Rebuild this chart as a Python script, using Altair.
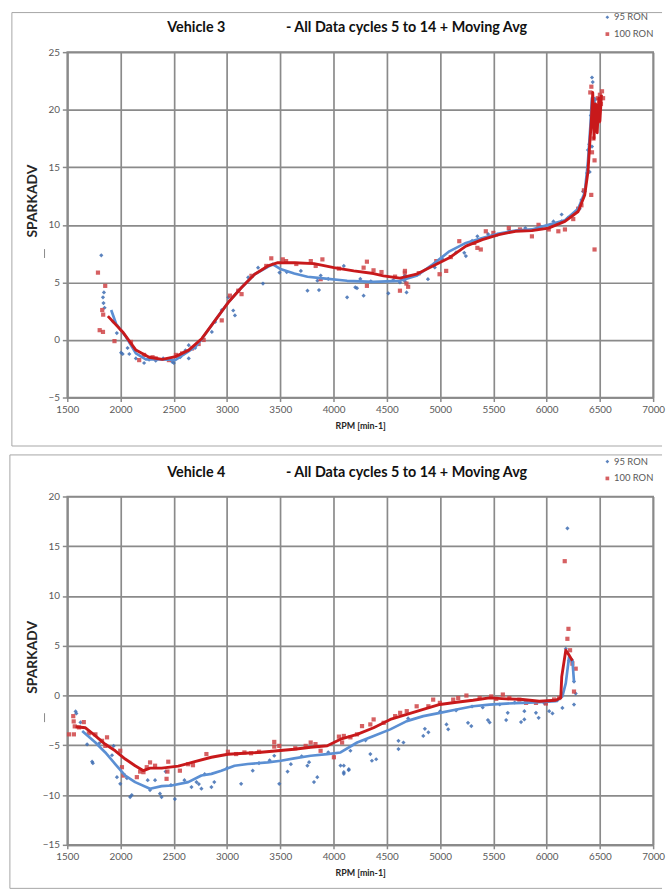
import altair as alt
import pandas as pd

# ---------------- Vehicle 3 ----------------
v3_b_rpm = [1819, 1835, 1840, 1844, 1850, 1930, 1965, 2005, 2020, 2066, 2082, 2144, 2221, 2268, 2330, 2400,
            2485, 2500, 2560, 2609, 2640, 2640, 2700, 2857, 2888, 2950, 3012, 3058, 3074, 3105, 3198, 3291,
            3337, 3430, 3492, 3560, 3693, 3755, 3848, 3863, 3879, 3950, 4096, 4127, 4204, 4220, 4251, 4282,
            4350, 4514, 4560, 4623, 4669, 4670, 4685, 4886, 4950, 5025, 5150, 5227, 5242, 5300, 5350, 5450,
            5536, 5650, 5800, 5940, 6050, 6064, 6141, 6141, 6200, 6250, 6296, 6311, 6327, 6342, 6358, 6380,
            6388, 6400, 6404, 6415, 6426, 6426, 6433, 6440, 6460]
v3_b_val = [7.35, 3.7, 3.2, 4.13, 2.8, 1.6, 0.6, -1.1, -1.22, -0.7, -1.22, -1.6, -2.0, -1.7, -1.8, -1.6,
            -1.9, -2.0, -1.5, -0.9, -1.6, -0.45, -0.7, 0.7, 1.56, 2.6, 3.7, 2.56, 2.13, 4.28, 5.43, 6.28,
            4.9, 6.57, 5.85, 5.9, 6.0, 4.28, 5.15, 4.33, 5.6, 5.3, 6.43, 3.7, 4.57, 4.5, 5.3, 3.85,
            5.1, 4.05, 5.2, 5.0, 5.6, 5.1, 4.13, 5.28, 6.3, 7.0, 7.6, 7.57, 7.29, 8.6, 9.0, 9.2,
            9.15, 9.5, 9.72, 9.87, 9.9, 10.3, 10.3, 10.9, 10.6, 10.9, 11.4, 11.4, 12.16, 12.9, 12.9, 14.5,
            16.5, 17.0, 14.6, 19.5, 22.8, 16.8, 22.4, 20.5, 20.9]

v3_r_rpm = [1788, 1804, 1828, 1835, 1837, 1856, 1943, 2098, 2175, 2221, 2300, 2330, 2454, 2520, 2578, 2671,
            2733, 2780, 2950, 3027, 3105, 3136, 3229, 3368, 3415, 3523, 3554, 3650, 3786, 3832, 3879, 3895,
            4050, 4282, 4313, 4313, 4375, 4450, 4577, 4623, 4669, 4670, 4684, 4700, 4800, 4964, 4995, 5057,
            5100, 5180, 5320, 5350, 5382, 5429, 5500, 5645, 5750, 5862, 5924, 6020, 6110, 6172, 6250, 6296,
            6327, 6350, 6410, 6419, 6420, 6426, 6440, 6450, 6450, 6460, 6470, 6480, 6490, 6500, 6510, 6520, 6530]
v3_r_val = [5.85, 0.85, 2.6, 0.7, 2.2, 4.7, -0.1, -0.17, -1.75, -1.3, -1.5, -1.6, -1.75, -1.3, -1.17, -0.74,
            -0.35, 0.0, 1.7, 3.85, 4.28, 3.98, 5.57, 6.43, 7.09, 7.0, 6.85, 6.6, 6.85, 6.43, 5.28, 7.0,
            6.2, 6.28, 6.8, 4.7, 6.05, 5.9, 5.5, 4.28, 5.85, 6.0, 4.9, 4.62, 5.8, 6.85, 5.71, 6.0,
            7.2, 8.58, 8.43, 8.0, 7.86, 9.44, 9.3, 9.72, 9.6, 9.0, 10.0, 9.6, 9.44, 9.6, 10.5, 11.4,
            11.7, 13.0, 21.5, 12.6, 22.0, 16.3, 17.5, 15.6, 7.86, 18.5, 20.0, 21.0, 19.0, 21.3, 20.5, 21.6, 21.0]

v3_bl_rpm = [1912, 1958, 2052, 2144, 2237, 2392, 2516, 2609, 2702, 2764, 2888, 3012, 3136, 3259, 3383, 3430,
             3507, 3631, 3755, 3879, 4127, 4375, 4623, 4778, 4932, 5087, 5242, 5397, 5552, 5707, 5862, 6017,
             6172, 6296, 6358, 6388, 6410, 6425, 6435, 6445, 6455]
v3_bl_val = [2.6, 1.41, 0.26, -1.17, -1.68, -1.68, -1.74, -1.17, -0.6, 0.1, 1.7, 3.27, 4.56, 5.71, 6.35, 6.57,
             6.14, 5.77, 5.49, 5.37, 5.14, 5.05, 5.14, 5.57, 6.57, 7.7, 8.43, 8.86, 9.25, 9.5, 9.6, 10.0,
             10.4, 11.4, 12.8, 15.5, 18.5, 21.0, 19.5, 21.0, 20.2]

v3_rl_rpm = [1881, 2020, 2144, 2268, 2392, 2516, 2640, 2764, 2888, 3012, 3136, 3259, 3383, 3477, 3631, 3817,
             4003, 4189, 4375, 4468, 4623, 4778, 4932, 5087, 5242, 5397, 5552, 5707, 5862, 6017, 6172, 6296,
             6358, 6388, 6404, 6419, 6433, 6445, 6460, 6475, 6490, 6500, 6515]
v3_rl_val = [2.07, 0.7, -0.88, -1.5, -1.68, -1.45, -0.88, 0.13, 1.7, 3.27, 4.56, 5.71, 6.43, 6.71, 6.71, 6.63,
             6.28, 6.0, 5.77, 5.57, 5.37, 5.71, 6.43, 7.14, 8.15, 8.72, 9.15, 9.44, 9.5, 9.72, 10.3, 11.16,
             12.6, 14.6, 16.9, 18.9, 21.5, 17.5, 20.5, 18.0, 21.0, 19.0, 21.3]

# ---------------- Vehicle 4 ----------------
v4_b_rpm = [1578, 1585, 1624, 1686, 1733, 1740, 1800, 1920, 1935, 1966, 1997, 2060, 2090, 2105, 2255, 2277,
            2324, 2370, 2385, 2423, 2473, 2510, 2600, 2666, 2713, 2735, 2759, 2790, 2853, 2880, 3000, 3132,
            3241, 3300, 3400, 3443, 3490, 3568, 3599, 3700, 3754, 3770, 3816, 3847, 3950, 4065, 4096, 4096,
            4096, 4142, 4143, 4158, 4300, 4345, 4360, 4400, 4609, 4609, 4656, 4700, 4842, 4857, 4890, 5000,
            5060, 5076, 5150, 5262, 5293, 5300, 5400, 5449, 5465, 5560, 5620, 5635, 5700, 5760, 5791, 5791,
            5900, 5925, 5980, 6000, 6024, 6055, 6100, 6148, 6180, 6195, 6211, 6242, 6257, 6257, 6273]
v4_b_val = [-1.6, -1.8, -2.7, -4.9, -6.65, -6.8, -4.8, -6.0, -5.06, -8.2, -8.87, -8.3, -10.2, -10.0, -8.5, -9.5,
            -8.5, -9.86, -10.2, -7.64, -9.0, -10.4, -8.5, -9.2, -8.7, -8.9, -9.36, -7.9, -9.2, -8.7, -7.3, -8.87,
            -7.55, -6.8, -6.5, -6.05, -8.87, -7.64, -6.9, -6.1, -7.05, -6.7, -8.7, -8.2, -5.7, -7.04, -7.05, -7.7,
            -7.87, -7.5, -7.4, -5.55, -4.5, -5.88, -6.55, -6.4, -4.55, -5.38, -4.72, -2.3, -4.06, -3.34, -3.7, -1.6,
            -2.9, -3.4, -1.5, -2.74, -3.07, -1.1, -1.2, -2.47, -2.7, -0.9, -2.47, -1.74, -0.7, -2.67, -1.57, -2.4,
            -1.74, -2.24, -0.8, -0.6, -1.57, -1.8, -0.5, -1.24, 4.7, 16.8, 3.5, 3.4, 1.4, -0.91, 0.2]

v4_r_rpm = [1516, 1556, 1560, 1562, 1570, 1610, 1655, 1702, 1764, 1826, 1857, 1873, 1997, 2013, 2028, 2153,
            2184, 2215, 2246, 2277, 2324, 2432, 2440, 2448, 2557, 2635, 2680, 2806, 3008, 3085, 3163, 3225,
            3300, 3443, 3443, 3490, 3640, 3738, 3785, 3830, 3878, 4003, 4050, 4080, 4096, 4158, 4220, 4267,
            4345, 4376, 4470, 4578, 4625, 4687, 4780, 4890, 4935, 4998, 5123, 5170, 5247, 5371, 5480, 5527,
            5589, 5650, 5744, 5807, 5900, 5993, 6070, 6118, 6170, 6195, 6205, 6220, 6242, 6257, 6273]
v4_r_val = [-3.9, -2.07, -2.6, -3.9, -3.1, -3.2, -2.67, -3.8, -3.9, -4.55, -5.06, -4.2, -5.55, -7.2, -8.04, -8.2,
            -7.64, -7.7, -7.2, -6.72, -7.05, -8.37, -7.64, -6.65, -7.55, -6.9, -7.0, -5.88, -5.65, -5.88, -5.72, -5.8,
            -5.65, -4.66, -5.13, -5.06, -5.3, -5.06, -4.72, -4.88, -5.55, -6.2, -4.13, -4.72, -4.06, -4.2, -3.9, -3.07,
            -2.9, -2.4, -2.74, -2.07, -1.74, -1.57, -1.08, -1.08, -0.41, -0.74, -0.41, -0.25, 0.0, -0.25, -0.09, -0.33,
            0.1, -0.25, -0.41, -0.74, -0.74, -0.8, -0.4, -0.25, 13.5, 5.7, 6.7, 4.55, 3.2, 0.4, 2.7]

v4_bl_rpm = [1640, 1764, 1857, 1950, 2044, 2137, 2277, 2386, 2479, 2635, 2759, 2853, 2946, 3070, 3195, 3381,
             3505, 3630, 3785, 3941, 4065, 4221, 4376, 4532, 4687, 4842, 4998, 5154, 5309, 5464, 5620, 5775,
             5931, 6087, 6148, 6180, 6211, 6242, 6257]
v4_bl_val = [-3.56, -4.72, -5.72, -6.88, -8.04, -8.7, -9.36, -9.1, -9.04, -8.7, -8.04, -7.87, -7.55, -7.05, -6.88, -6.72,
             -6.55, -6.32, -6.05, -5.88, -5.72, -4.72, -4.06, -3.4, -2.57, -2.07, -1.74, -1.4, -1.08, -0.91, -0.81, -0.74,
             -0.67, -0.57, -0.09, 1.24, 3.9, 3.56, 1.4]

v4_rl_rpm = [1578, 1671, 1764, 1857, 1950, 2044, 2137, 2215, 2277, 2386, 2542, 2697, 2853, 3008, 3163, 3319,
             3474, 3630, 3785, 3941, 4065, 4221, 4376, 4532, 4687, 4842, 4998, 5154, 5309, 5464, 5620, 5775,
             5931, 6087, 6133, 6142, 6180, 6211, 6242]
v4_rl_val = [-3.14, -3.24, -4.06, -4.9, -5.55, -6.38, -7.05, -7.55, -7.3, -7.3, -7.1, -6.65, -6.2, -5.9, -5.8, -5.7,
             -5.55, -5.4, -5.2, -5.05, -4.39, -3.9, -3.24, -2.4, -1.9, -1.4, -0.9, -0.67, -0.47, -0.23, -0.33, -0.4,
             -0.57, -0.47, -0.23, 1.9, 4.55, 4.06, 3.5]

series_names = ["95 RON", "100 RON"]
x_ticks = [1500, 2000, 2500, 3000, 3500, 4000, 4500, 5000, 5500, 6000, 6500, 7000]
v3_y_ticks = [-5, 0, 5, 10, 15, 20, 25]
v4_y_ticks = [-15, -10, -5, 0, 5, 10, 15, 20]
titles_main = ["Vehicle 3", "Vehicle 4"]
title_sub = "- All Data cycles 5 to 14 + Moving Avg"
x_title = "RPM [min-1]"
y_title = "SPARKADV"

BLUE_PT = "#3e6db3"
RED_PT = "#cf4446"
BLUE_LN = "#5b8fd3"
RED_LN = "#c8191b"
GRID = "#8a8a8a"
FRAME = "#a6a6a6"
FONT = "Lato"
W = 592


def panel(tmain, b_rpm, b_val, r_rpm, r_val, bl_rpm, bl_val, rl_rpm, rl_val,
          ydom, yticks, height, ytitle_y, frame_top, frame_bottom, frame_left, mark_y):
    pts = pd.DataFrame({
        "rpm": b_rpm + r_rpm,
        "val": b_val + r_val,
        "series": [series_names[0]] * len(b_rpm) + [series_names[1]] * len(r_rpm),
    })
    bl = pd.DataFrame({"rpm": bl_rpm, "val": bl_val})
    rl = pd.DataFrame({"rpm": rl_rpm, "val": rl_val})

    xenc = alt.X("rpm:Q", scale=alt.Scale(domain=[1500, 7000], nice=False, zero=False),
                 axis=alt.Axis(values=x_ticks, format="d", title=x_title, grid=True,
                               tickSize=4, labelPadding=3, titlePadding=7,
                               labelFontSize=10, titleFontSize=9, titleFontWeight="bold",
                               labelFlush=False))
    yenc = alt.Y("val:Q", scale=alt.Scale(domain=ydom, nice=False, zero=False),
                 axis=alt.Axis(values=yticks, format="d", title=y_title, grid=True,
                               tickSize=5, labelPadding=3, titleFontSize=14,
                               titleFontWeight="bold", titleAngle=270,
                               titleX=-35, titleY=ytitle_y,
                               titleAlign="center", titleBaseline="middle"))

    leg = alt.Legend(orient="none", legendX=541, legendY=-40, title=None,
                     labelFontSize=9.5, labelColor="#595959", labelFont=FONT,
                     symbolSize=14, rowPadding=6, padding=0, labelOffset=2)
    scatter = alt.Chart(pts).mark_point(filled=True, opacity=0.85).encode(
        x=xenc, y=yenc,
        color=alt.Color("series:N", scale=alt.Scale(domain=series_names, range=[BLUE_PT, RED_PT]), legend=leg),
        shape=alt.Shape("series:N", scale=alt.Scale(domain=series_names, range=["diamond", "square"]), legend=leg),
        size=alt.value(18),
    )
    bline = alt.Chart(bl).mark_line(color=BLUE_LN, strokeWidth=2.7, strokeJoin="round").encode(x=xenc, y=yenc)
    rline = alt.Chart(rl).mark_line(color=RED_LN, strokeWidth=2.9, strokeJoin="round").encode(x=xenc, y=yenc)

    one = pd.DataFrame({"t": [tmain]})
    sub = pd.DataFrame({"t": [title_sub]})
    t1 = alt.Chart(one).mark_text(font=FONT, fontSize=14.5, fontWeight="bold", align="left",
                                  baseline="middle", color="#111111").encode(
        text="t:N", x=alt.value(101), y=alt.value(-24))
    t2 = alt.Chart(sub).mark_text(font=FONT, fontSize=14.5, fontWeight="bold", align="left",
                                  baseline="middle", color="#111111").encode(
        text="t:N", x=alt.value(221), y=alt.value(-24))

    frame_df = pd.DataFrame({"k": [0]})
    ftop = alt.Chart(frame_df).mark_rule(color=FRAME, strokeWidth=1).encode(
        x=alt.value(frame_left), x2=alt.value(W + 9), y=alt.value(frame_top), y2=alt.value(frame_top))
    fleft = alt.Chart(frame_df).mark_rule(color=FRAME, strokeWidth=1).encode(
        x=alt.value(frame_left), x2=alt.value(frame_left), y=alt.value(frame_top), y2=alt.value(frame_bottom))
    layers = [ftop, fleft]
    if frame_bottom < height + 60:
        layers.append(alt.Chart(frame_df).mark_rule(color=FRAME, strokeWidth=1).encode(
            x=alt.value(frame_left), x2=alt.value(W + 9), y=alt.value(frame_bottom), y2=alt.value(frame_bottom)))
    tick = alt.Chart(frame_df).mark_rule(color="#8a8a8a", strokeWidth=1).encode(
        x=alt.value(-23), x2=alt.value(-23), y=alt.value(mark_y), y2=alt.value(mark_y + 9))

    return alt.layer(*layers, scatter, bline, rline, t1, t2, tick).properties(width=W, height=height)


top = panel(titles_main[0], v3_b_rpm, v3_b_val, v3_r_rpm, v3_r_val, v3_bl_rpm, v3_bl_val,
            v3_rl_rpm, v3_rl_val, [-5, 25], v3_y_ticks, 349, 150, -40, 398, -56, 199)
bottom = panel(titles_main[1], v4_b_rpm, v4_b_val, v4_r_rpm, v4_r_val, v4_bl_rpm, v4_bl_val,
               v4_rl_rpm, v4_rl_val, [-15, 20], v4_y_ticks, 352, 162, -42, 396, -58, 219)

chart = alt.vconcat(top, bottom, spacing=100, bounds="flush").resolve_scale(
    color="independent", shape="independent"
).properties(
    padding={"left": 8, "top": 6, "right": 0, "bottom": 0},
    background="white"
).configure_view(
    stroke=GRID, strokeWidth=1.7
).configure_axis(
    gridColor=GRID, gridWidth=1.7, gridOpacity=1, domainColor=GRID, domainWidth=1.7,
    tickColor=GRID, tickWidth=1.5,
    labelFont=FONT, titleFont=FONT, labelColor="#595959", titleColor="#262626"
)

chart.save("out.html", embed_options={"renderer": "svg", "actions": False})
